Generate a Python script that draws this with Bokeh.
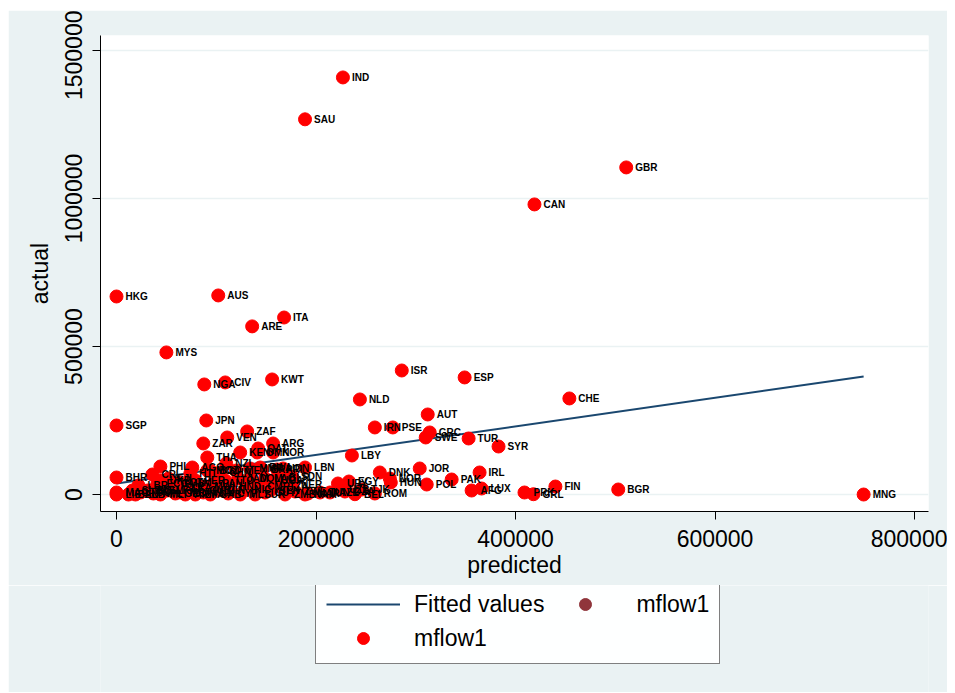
from bokeh.plotting import figure
from bokeh.models import Range1d, FixedTicker, NumeralTickFormatter, Legend, LegendItem, ColumnDataSource, Spacer
from bokeh.layouts import column, row
from bokeh.embed import file_html
from bokeh.resources import INLINE
from bokeh.core.properties import value

codes = ["IND","SAU","GBR","CAN","HKG","AUS","ITA","ARE","MYS","ISR","ESP","KWT","NGA","CIV","CHE","NLD",
         "AUT","SGP","JPN","IRN","PSE","ZAF","GRC","SWE","TUR","SYR","VEN","ZAR","ARG","QAT","KEN","OMN",
         "KOR","THA","LBY","NZL","PHL","LBN","JOR","IRL","DNK","NOR","HUN","PAK","POL","SDN","NER","BHR",
         "LUX","AFG","PRK","GRL","FIN","BGR","MNG","TUN","MEX","BRA","PRI","CRI","EGY","URY","BEL","ROM",
         "MAR","DZA","MAC","LIE","WSM","VNM","FJI","GTM","PER","MOZ","ECU","BOL","NPL","LKA","SLV","HTI",
         "CUB","AGO","BGD","CHN","MMR","RWA","IDN","DOM","JAM","TTO","PAN","HND","NIC","GUY","SUR","MLT",
         "CYP","ARM","GEO","ALB","TGO","BEN","MLI","SEN","TZA","UGA","ZMB","ZWE","NAM","CMR","GIN","BFA",
         "MRT","GAB","SLE","LBR","GMB","MWI","LAO","BLR","UKR","KAZ","UZB","AZE","TJK"]
predicted = [227000,189000,511000,419000,0,102000,168000,136000,50000,286000,349000,156000,88000,109000,454000,244000,
             312000,0,90000,259000,277000,131000,314000,310000,353000,383000,111000,87000,157000,142000,124000,141000,
             157000,91000,236000,110000,44000,189000,304000,364000,264000,274000,275000,336000,311000,176000,176000,0,
             366000,356000,409000,418000,440000,503000,749000,204000,120000,146000,161000,36000,233000,222000,239000,259000,
             192000,229000,0,0,34000,87000,52000,64000,79000,91000,41000,31000,37000,51000,59000,74000,
             84000,76000,94000,104000,134000,144000,167000,134000,122000,109000,97000,114000,129000,149000,139000,124000,
             112000,69000,59000,19000,24000,12000,44000,154000,164000,156000,169000,179000,189000,142000,102000,79000,
             64000,94000,16000,22000,56000,89000,149000,164000,44000,72000,224000,214000,246000]
actual = [1409000,1267500,1105000,980000,669000,672500,598000,568000,480000,419000,395500,388700,371800,378600,324500,321100,
          270400,233200,250100,226500,226500,213000,209600,192700,189300,162200,192700,172400,172400,155500,142000,142000,
          142000,125100,131800,104800,94600,91300,87900,74400,74400,54100,40600,50700,33800,60800,33800,57500,
          20300,13500,6800,1000,27000,16900,0,6800,81100,84500,84500,67600,43900,37200,1000,3400,
          3400,10100,6800,0,13500,6800,54100,40600,47300,81100,37200,13500,3400,13500,23700,71000,
          13500,91300,81100,74400,87900,91300,87900,54100,54100,47300,37200,27000,16900,6800,0,0,
          3400,0,3400,0,6800,0,0,13500,27000,47300,0,10100,0,27000,13500,0,
          6800,0,13500,30400,37200,27000,54100,57500,47300,23700,16900,6800,16900]

fit_x = [0, 749000]
fit_y = [37000, 398500]

x_ticks = [0, 200000, 400000, 600000, 800000]
y_ticks = [0, 500000, 1000000, 1500000]

legend_labels = ["Fitted values", "mflow1", "mflow1"]

FONT = "Liberation Sans"
BG = "#EAF2F3"
NAVY = "#1A476F"
RED = "#FF0000"
MAROON = "#90353B"

p = figure(frame_width=828, frame_height=476,
           min_border_left=92, min_border_right=19, min_border_top=25, min_border_bottom=74,
           x_range=Range1d(-16040, 814030), y_range=Range1d(-57400, 1550700),
           output_backend="svg", toolbar_location=None)

p.border_fill_color = BG
p.background_fill_color = "white"
p.outline_line_color = None

p.xgrid.visible = False
p.ygrid.grid_line_color = BG
p.ygrid.grid_line_width = 1.5
p.ygrid.ticker = FixedTicker(ticks=y_ticks)

for ax in (p.xaxis[0], p.yaxis[0]):
    ax.axis_line_color = "black"
    ax.axis_line_width = 1
    ax.major_tick_line_color = "black"
    ax.major_tick_in = 0
    ax.major_tick_out = 8
    ax.minor_tick_line_color = None
    ax.major_label_text_font = FONT
    ax.major_label_text_font_size = "23px"
    ax.major_label_text_color = "black"
    ax.axis_label_text_font = FONT
    ax.axis_label_text_font_size = "23px"
    ax.axis_label_text_font_style = "normal"
    ax.axis_label_text_color = "black"
    ax.formatter = NumeralTickFormatter(format="0")

p.xaxis.ticker = FixedTicker(ticks=x_ticks)
p.yaxis.ticker = FixedTicker(ticks=y_ticks)
p.xaxis.axis_label = "predicted"
p.yaxis.axis_label = "actual"
p.yaxis.major_label_orientation = "vertical"
p.xaxis.major_label_standoff = 10
p.xaxis.axis_label_standoff = 2
p.yaxis.major_label_standoff = 10
p.yaxis.axis_label_standoff = 10

src = ColumnDataSource(dict(x=predicted, y=actual, code=codes))
fit_src = ColumnDataSource(dict(x=fit_x, y=fit_y))

p.line("x", "y", source=fit_src, line_color=NAVY, line_width=2)
p.scatter("x", "y", source=src, size=13, fill_color=RED, line_color=RED)
p.text("x", "y", text="code", source=src, x_offset=9, text_baseline="middle", text_align="left",
       text_font=value(FONT), text_font_size="10px", text_font_style="bold", text_color="black")

# legend strip below the plot (same background); its ranges lie away from the data,
# so its renderers only serve as legend keys
lg = figure(width=939, height=107, min_border=0,
            x_range=Range1d(-3e6, -2e6), y_range=Range1d(-3e6, -2e6),
            output_backend="svg", toolbar_location=None)
lg.axis.visible = False
lg.grid.visible = False
lg.outline_line_color = None
lg.background_fill_color = BG
lg.border_fill_color = BG

r_fit = lg.line("x", "y", source=fit_src, line_color=NAVY, line_width=2)
r_dark = lg.scatter("x", "y", source=src, size=12, fill_color=MAROON, line_color=MAROON)
r_red = lg.scatter("x", "y", source=src, size=12, fill_color=RED, line_color=RED)

legend = Legend(items=[LegendItem(label=legend_labels[0], renderers=[r_fit]),
                       LegendItem(label=legend_labels[1], renderers=[r_dark]),
                       LegendItem(label=legend_labels[2], renderers=[r_red])],
                orientation="horizontal", ncols=2, location=(215, 28),
                glyph_width=74, glyph_height=30, label_standoff=14, spacing=4,
                padding=10, margin=0,
                label_text_font=FONT, label_text_font_size="23px", label_text_color="black",
                border_line_color="black", border_line_width=1, background_fill_color="white")
lg.add_layout(legend, "center")

layout = column(Spacer(height=10), row(Spacer(width=8), column(p, lg, spacing=0), spacing=0), spacing=0)

open("out.html", "w").write(file_html(layout, INLINE))
